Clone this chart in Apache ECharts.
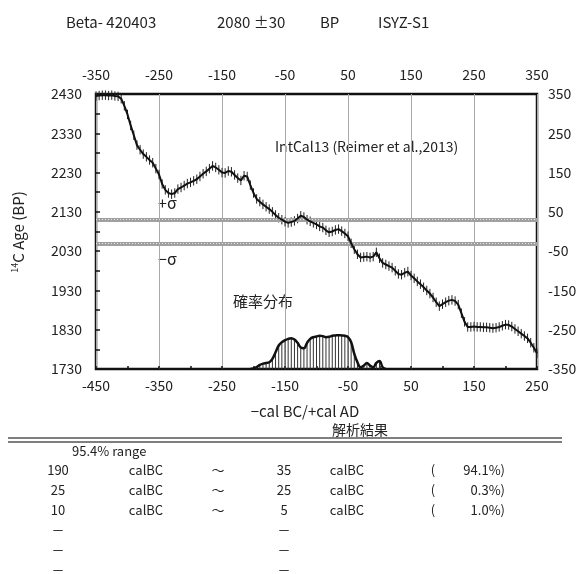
<!DOCTYPE html>
<html><head><meta charset="utf-8">
<script src="https://cdn.jsdelivr.net/npm/echarts@6/dist/echarts.min.js"></script>
<style>html,body{margin:0;padding:0;background:#fff}#c{width:585px;height:574px}</style>
</head><body><div id="c"></div>
<script>
// ---- data ----
const curveYears = [-450,-445,-440,-435,-430,-425,-420,-415,-410,-405,-400,-395,-390,-385,-380,-375,-370,-365,-360,-355,-350,-345,-340,-335,-330,-325,-320,-315,-310,-305,-300,-295,-290,-285,-280,-275,-270,-265,-260,-255,-250,-245,-240,-235,-230,-225,-220,-215,-210,-205,-200,-195,-190,-185,-180,-175,-170,-165,-160,-155,-150,-145,-140,-135,-130,-125,-120,-115,-110,-105,-100,-95,-90,-85,-80,-75,-70,-65,-60,-55,-50,-45,-40,-35,-30,-25,-20,-15,-10,-5,0,5,10,15,20,25,30,35,40,45,50,55,60,65,70,75,80,85,90,95,100,105,110,115,120,125,130,135,140,145,150,155,160,165,170,175,180,185,190,195,200,205,210,215,220,225,230,235,240,245,250];
const curveBP = [2425,2426,2427,2427,2426,2427,2425,2424,2418,2400,2378,2350,2325,2300,2288,2277,2270,2262,2255,2240,2225,2201,2186,2178,2175,2178,2188,2192,2197,2202,2205,2209,2213,2220,2227,2233,2240,2247,2243,2237,2230,2229,2234,2232,2224,2216,2210,2222,2220,2198,2178,2163,2156,2149,2143,2137,2130,2122,2115,2110,2105,2102,2104,2107,2113,2120,2117,2110,2106,2102,2098,2093,2090,2083,2078,2080,2084,2086,2081,2075,2068,2050,2035,2022,2014,2015,2016,2014,2016,2027,2012,2000,1996,1992,1988,1980,1972,1970,1975,1978,1968,1961,1953,1946,1938,1930,1922,1912,1900,1890,1895,1900,1904,1906,1903,1894,1872,1850,1837,1837,1838,1837,1837,1836,1836,1835,1834,1835,1837,1840,1843,1842,1838,1832,1826,1820,1814,1808,1797,1784,1770];
const curveErr = 12;
const probYears = [-205,-200,-195,-190,-185,-180,-175,-170,-165,-160,-155,-150,-145,-140,-135,-130,-125,-120,-115,-110,-105,-100,-95,-90,-85,-80,-75,-70,-65,-60,-55,-50,-45,-40,-35,-30,-25,-20,-15,-10,-5,0,5,10];
const probValues = [0,0.02,0.06,0.12,0.16,0.18,0.2,0.3,0.5,0.7,0.8,0.86,0.9,0.92,0.88,0.78,0.64,0.62,0.78,0.9,0.95,0.97,0.99,0.98,0.95,0.96,0.99,1.0,1.01,1.0,0.99,0.95,0.8,0.45,0.2,0.05,0.1,0.18,0.1,0.05,0.18,0.24,0.05,0];
const sigmaLines = [2110, 2050];
const header = ['Beta- 420403', '2080 ±30', 'BP', 'ISYZ-S1'];
const rangeTitle = '95.4% range';
const rangeRows = [
  ['190','calBC','～','35','calBC','(','94.1%)'],
  ['25','calBC','～','25','calBC','(','0.3%)'],
  ['10','calBC','～','5','calBC','(','1.0%)'],
  ['－','','','－','','',''],
  ['－','','','－','','',''],
  ['－','','','－','','','']
];

const FONT = '"Noto Sans CJK JP", "Liberation Sans", sans-serif';
const TC = '#222';

const curveData = curveYears.map((y,i)=>[y, curveBP[i]]);
const errData = curveYears.map((y,i)=>[y, curveBP[i], curveErr]);
const probData = probYears.map((y,i)=>[y, probValues[i]]);

const graphics = [];
function txt(x,y,text,opt){
  graphics.push({type:'text', x:x, y:y, style:Object.assign({text:text, fill:TC, font:'14px '+FONT, textVerticalAlign:'middle'}, opt||{})});
}
// header
const HF = {font:'15px '+FONT};
txt(66,22,header[0],HF); txt(217,22,header[1],HF); txt(320,22,header[2],HF); txt(378,22,header[3],HF);
// in-plot annotations
txt(158,203,'+σ',{font:'16px '+FONT});
txt(158,259,'−σ',{font:'16px '+FONT});
txt(275,147,'IntCal13 (Reimer et al.,2013)');
txt(233,301,'確率分布',{font:'15px '+FONT});
// titles
txt(305,411,'−cal BC/+cal AD',{textAlign:'center',font:'15px '+FONT});
txt(360,430,'解析結果',{textAlign:'center'});
graphics.push({type:'text', x:18, y:232, rotation:Math.PI/2, style:{
  text:'{s|14}C Age (BP)', textAlign:'center', textVerticalAlign:'middle', fill:TC, font:'15px '+FONT,
  rich:{s:{fontSize:9, fill:TC, fontFamily:FONT, verticalAlign:'top', padding:[0,0,6,0]}}}});
// double rule
graphics.push({type:'line', shape:{x1:8,y1:438,x2:562,y2:438}, style:{stroke:'#555',lineWidth:1.5}});
graphics.push({type:'line', shape:{x1:8,y1:442,x2:562,y2:442}, style:{stroke:'#555',lineWidth:1.5}});
// table
txt(72,451,rangeTitle,{font:'13px '+FONT});
const colX = [58,146,218,284,347,433,505];
const colAlign = ['center','center','center','center','center','center','right'];
rangeRows.forEach((r,i)=>{
  r.forEach((c,j)=>{ if(c) txt(colX[j], 470+i*20, c, {textAlign:colAlign[j], font:'13px '+FONT}); });
});

const chart = echarts.init(document.getElementById('c'), null, {renderer:'canvas'});
const plain = v => String(v);
const axisLabel = {color:TC, fontSize:14, fontFamily:FONT, formatter:plain};
const noLine = {show:false, onZero:false};
chart.setOption({
  animation:false,
  backgroundColor:'#fff',
  grid:{left:96, top:94, width:441, height:275, show:true, borderColor:'#111', borderWidth:2.5, backgroundColor:'transparent'},
  xAxis:[
    {type:'value', position:'bottom', min:-450, max:250, interval:100,
     axisLine:noLine, splitLine:{show:false},
     axisTick:{show:true, inside:true, length:3, lineStyle:{color:'#111',width:1.5}},
     minorTick:{show:true, splitNumber:2, length:3, lineStyle:{color:'#111',width:1.5}},
     axisLabel:Object.assign({margin:10}, axisLabel)},
    {type:'value', position:'top', min:-350, max:350, interval:100,
     axisLine:noLine, axisTick:{show:false},
     splitLine:{show:true, lineStyle:{color:'#aaa', width:1, type:'solid'}},
     axisLabel:Object.assign({margin:12}, axisLabel)}
  ],
  yAxis:[
    {type:'value', position:'left', min:1730, max:2430, interval:100,
     axisLine:noLine, splitLine:{show:false},
     axisTick:{show:true, inside:true, length:4, lineStyle:{color:'#111',width:1.5}},
     minorTick:{show:true, splitNumber:2, length:4, lineStyle:{color:'#111',width:1.5}},
     axisLabel:Object.assign({margin:14}, axisLabel)},
    {type:'value', position:'right', min:-350, max:350, interval:100,
     axisLine:noLine, axisTick:{show:false}, splitLine:{show:false},
     axisLabel:Object.assign({margin:11}, axisLabel)},
    {type:'value', min:0, max:8.2, show:false, axisLine:noLine}
  ],
  series:[
    {type:'bar', xAxisIndex:0, yAxisIndex:2, data:probData, barWidth:1, itemStyle:{color:'#333'}, silent:true, z:2},
    {type:'line', xAxisIndex:0, yAxisIndex:2, data:probData, smooth:0.4, showSymbol:false, lineStyle:{color:'#111', width:2.5}, silent:true, z:3},
    {type:'custom', xAxisIndex:0, yAxisIndex:0, data:errData, silent:true, z:4,
     renderItem:function(params, api){
       const x = api.value(0), y = api.value(1), e = api.value(2);
       const p1 = api.coord([x, y+e]), p2 = api.coord([x, y-e]);
       return {type:'line', shape:{x1:p1[0],y1:p1[1],x2:p2[0],y2:p2[1]}, style:{stroke:'#222', lineWidth:1}};
     }},
    {type:'line', xAxisIndex:0, yAxisIndex:0, data:curveData, showSymbol:false, lineStyle:{color:'#111', width:2}, silent:true, z:5,
     markLine:{silent:true, symbol:'none', label:{show:false},
       lineStyle:{color:'#a0a0a0', width:4, type:'solid'},
       data:sigmaLines.map(v=>({yAxis:v}))}},
    {type:'line', xAxisIndex:0, yAxisIndex:0, data:[], z:6,
     markLine:{silent:true, symbol:'none', label:{show:false},
       lineStyle:{color:'#e8e8e8', width:1, type:[1,2]},
       data:sigmaLines.map(v=>({yAxis:v}))}}
  ],
  graphic:graphics
});
</script></body></html>
